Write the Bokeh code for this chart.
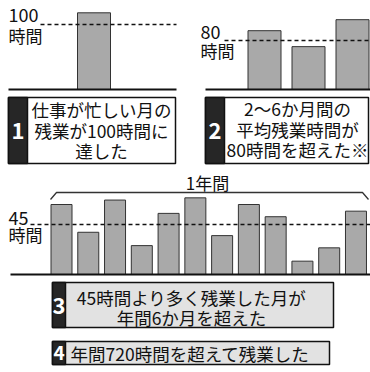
from bokeh.plotting import figure
from bokeh.models import Range1d
from bokeh.core.properties import value
from bokeh.embed import file_html
from bokeh.resources import INLINE

# ---------------- data ----------------
p1_values = [118]                      # 仕事が忙しい月
p1_threshold = 100
p2_values = [96, 70, 114]              # 2〜6か月間
p2_threshold = 80
p3_months = list(range(1, 13))         # 1年間
p3_values = [63, 38, 67, 26, 55, 69, 35, 63, 52, 12, 24, 57]
p3_threshold = 45

p1_label = ["100", "時間"]
p2_label = ["80", "時間"]
p3_label = ["45", "時間"]
p3_title = "1年間"

box1_lines = ["仕事が忙しい月の", "残業が100時間に", "達した"]
box2_lines = ["2〜6か月間の", "平均残業時間が", "80時間を超えた※"]
box3_lines = ["45時間より多く残業した月が", "年間6か月を超えた"]
box4_lines = ["年間720時間を超えて残業した"]
box_numbers = ["1", "2", "3", "4"]

# ---------------- layout / style ----------------
W, H = 370, 372
FONT = value("Noto Sans CJK JP")
INK = "#111111"
BAR_FILL = "#a9a9a9"
BOX_FILL = "#e2e2e2"

p = figure(width=W, height=H, x_range=Range1d(0, W), y_range=Range1d(H, 0),
           output_backend="svg", toolbar_location=None, min_border=0)
p.axis.visible = False
p.grid.visible = False
p.outline_line_color = None
p.background_fill_color = "white"
p.border_fill_color = "white"


def panel_range(base_px, ref_px, ref_val):
    s = (base_px - ref_px) / ref_val
    return Range1d(start=(base_px - H) / s, end=base_px / s)


p.extra_y_ranges = {
    "p1": panel_range(89, 24, p1_threshold),
    "p2": panel_range(89, 40, p2_threshold),
    "p3": panel_range(274, 224, p3_threshold),
}

# ---- panel 1 ----
p.vbar(x=[93.5], width=33, top=p1_values, bottom=0, y_range_name="p1",
       fill_color=BAR_FILL, line_color="#333", line_width=1)
p.segment(x0=[40], x1=[176], y0=[p1_threshold], y1=[p1_threshold], y_range_name="p1",
          line_color=INK, line_width=1.6, line_dash="4 3")
p.segment(x0=[8], x1=[176], y0=[0], y1=[0], y_range_name="p1", line_color=INK, line_width=2)
p.text(x=[8], y=[14], text=[p1_label[0]], text_font=FONT, text_font_size="18px",
       text_baseline="middle", text_color=INK)
p.text(x=[8], y=[35], text=[p1_label[1]], text_font=FONT, text_font_size="17px",
       text_baseline="middle", text_color=INK)

# ---- panel 2 ----
p2_x = [264 + 44 * i for i in range(len(p2_values))]
p.vbar(x=p2_x, width=33, top=p2_values, bottom=0, y_range_name="p2",
       fill_color=BAR_FILL, line_color="#333", line_width=1)
p.segment(x0=[224], x1=[370], y0=[p2_threshold], y1=[p2_threshold], y_range_name="p2",
          line_color=INK, line_width=1.6, line_dash="4 3")
p.segment(x0=[205], x1=[370], y0=[0], y1=[0], y_range_name="p2", line_color=INK, line_width=2)
p.text(x=[200], y=[31], text=[p2_label[0]], text_font=FONT, text_font_size="18px",
       text_baseline="middle", text_color=INK)
p.text(x=[200], y=[50], text=[p2_label[1]], text_font=FONT, text_font_size="17px",
       text_baseline="middle", text_color=INK)

# ---- panel 3 ----
p3_x = [61 + 26.77 * (m - 1) for m in p3_months]
p.vbar(x=p3_x, width=21, top=p3_values, bottom=0, y_range_name="p3",
       fill_color=BAR_FILL, line_color="#333", line_width=1)
p.segment(x0=[30], x1=[370], y0=[p3_threshold], y1=[p3_threshold], y_range_name="p3",
          line_color=INK, line_width=1.6, line_dash="4 3")
p.segment(x0=[10], x1=[370], y0=[0], y1=[0], y_range_name="p3", line_color=INK, line_width=2)
p.text(x=[8], y=[217], text=[p3_label[0]], text_font=FONT, text_font_size="18px",
       text_baseline="middle", text_color=INK)
p.text(x=[8], y=[234], text=[p3_label[1]], text_font=FONT, text_font_size="17px",
       text_baseline="middle", text_color=INK)
p.text(x=[207], y=[182], text=[p3_title], text_font=FONT, text_font_size="17px",
       text_align="center", text_baseline="middle", text_color=INK)
p.line(x=[50, 56, 362, 368], y=[199, 192, 192, 199], line_color="#333", line_width=1.3)

# ---- boxes ----
def box(l, r, t, b, tab_r, fill, num, num_y, num_size):
    p.quad(left=[l], right=[r], top=[t], bottom=[b], fill_color=fill,
           line_color=INK, line_width=1.5)
    p.quad(left=[l], right=[tab_r], top=[t], bottom=[b], fill_color="#262626",
           line_color=INK, line_width=1.5)
    p.text(x=[(l + tab_r) / 2], y=[num_y], text=[num], text_font=FONT,
           text_font_size=num_size, text_font_style="bold", text_color="white",
           text_align="center", text_baseline="middle")


box(8, 175, 97, 163, 27, "white", box_numbers[0], 130, "22px")
box(205, 368, 97, 163, 224, "white", box_numbers[1], 130, "22px")
box(52, 333, 282, 327, 65, BOX_FILL, box_numbers[2], 305, "22px")
box(52, 329, 341, 364, 65, BOX_FILL, box_numbers[3], 352.5, "19px")

for lines, cx, ys in [(box1_lines, 101, [109, 129.5, 150]),
                      (box2_lines, 297, [108, 128.5, 149]),
                      (box3_lines, 191, [297, 317])]:
    p.text(x=[cx] * len(lines), y=ys, text=lines, text_font=FONT, text_font_size="17.5px",
           text_align="center", text_baseline="middle", text_color=INK)

p.text(x=[70], y=[352.5], text=box4_lines, text_font=FONT, text_font_size="17.5px",
       text_align="left", text_baseline="middle", text_color=INK)

open("out.html", "w").write(file_html(p, INLINE))
